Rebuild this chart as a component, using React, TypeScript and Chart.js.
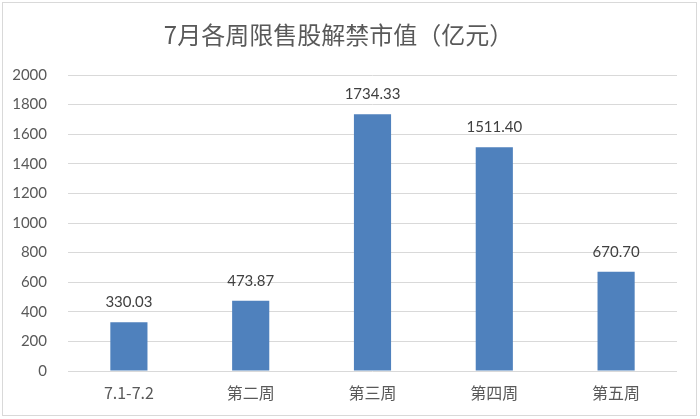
import React, { useEffect, useRef } from "react";
import { Chart, registerables } from "chart.js";

Chart.register(...registerables);

const titleText = "7月各周限售股解禁市值（亿元）";
const categories = ["7.1-7.2", "第二周", "第三周", "第四周", "第五周"];
const values = [330.03, 473.87, 1734.33, 1511.4, 670.7];
const yMin = 0;
const yMax = 2000;
const yStep = 200;

const numFont = "Lato, 'Liberation Sans', sans-serif";
const cjkFont = "'Noto Sans CJK SC', 'Noto Sans', sans-serif";

const valueLabelPlugin = {
  id: "valueLabels",
  afterDatasetsDraw(chart: any) {
    const ctx = chart.ctx;
    const meta = chart.getDatasetMeta(0);
    ctx.save();
    ctx.fillStyle = "#404040";
    ctx.font = `15px ${numFont}`;
    ctx.textAlign = "center";
    ctx.textBaseline = "middle";
    meta.data.forEach((bar: any, i: number) => {
      ctx.fillText(values[i].toFixed(2), bar.x, bar.y - 20);
    });
    ctx.restore();
  },
};

export default function App() {
  const ref = useRef<HTMLCanvasElement | null>(null);
  useEffect(() => {
    if (!ref.current) return;
    const chart = new Chart(ref.current, {
      type: "bar",
      data: {
        labels: categories,
        datasets: [
          {
            data: values,
            backgroundColor: "#4F81BD",
            borderWidth: 0,
            barPercentage: 0.305,
            categoryPercentage: 1,
          },
        ],
      },
      options: {
        responsive: false,
        animation: false,
        layout: { padding: { left: 0, right: 23, top: 0, bottom: 0 } },
        plugins: {
          legend: { display: false },
          tooltip: { enabled: false },
          title: {
            display: true,
            text: titleText,
            color: "#595959",
            font: { family: cjkFont, size: 24, weight: "normal" as any, lineHeight: 1.2 },
            padding: { top: 20, bottom: 26.2 },
          },
        },
        scales: {
          x: {
            grid: { display: false, drawTicks: false },
            border: { display: false },
            ticks: {
              color: "#595959",
              font: { family: cjkFont, size: 16 },
              padding: 12,
            },
            afterFit: (axis: any) => {
              axis.height = 48;
            },
          },
          y: {
            min: yMin,
            max: yMax,
            grid: { color: "#d9d9d9", lineWidth: 1, drawTicks: false },
            border: { display: false },
            ticks: {
              stepSize: yStep,
              color: "#595959",
              font: { family: numFont, size: 15 },
              padding: 21,
              callback: (v: any) => String(v),
            },
            afterFit: (axis: any) => {
              axis.width = 68;
            },
          },
        },
      },
      plugins: [valueLabelPlugin],
    });
    return () => chart.destroy();
  }, []);

  return (
    <div style={{ position: "fixed", left: 0, top: 0, width: 700, height: 419, background: "#ffffff" }}>
      <div
        style={{
          position: "absolute",
          left: 2,
          top: 2,
          width: 695,
          height: 414,
          boxSizing: "border-box",
          border: "1px solid #d9d9d9",
        }}
      />
      <canvas
        ref={ref}
        width={700}
        height={419}
        style={{ position: "absolute", left: 0, top: 0, width: 700, height: 419 }}
      />
    </div>
  );
}
